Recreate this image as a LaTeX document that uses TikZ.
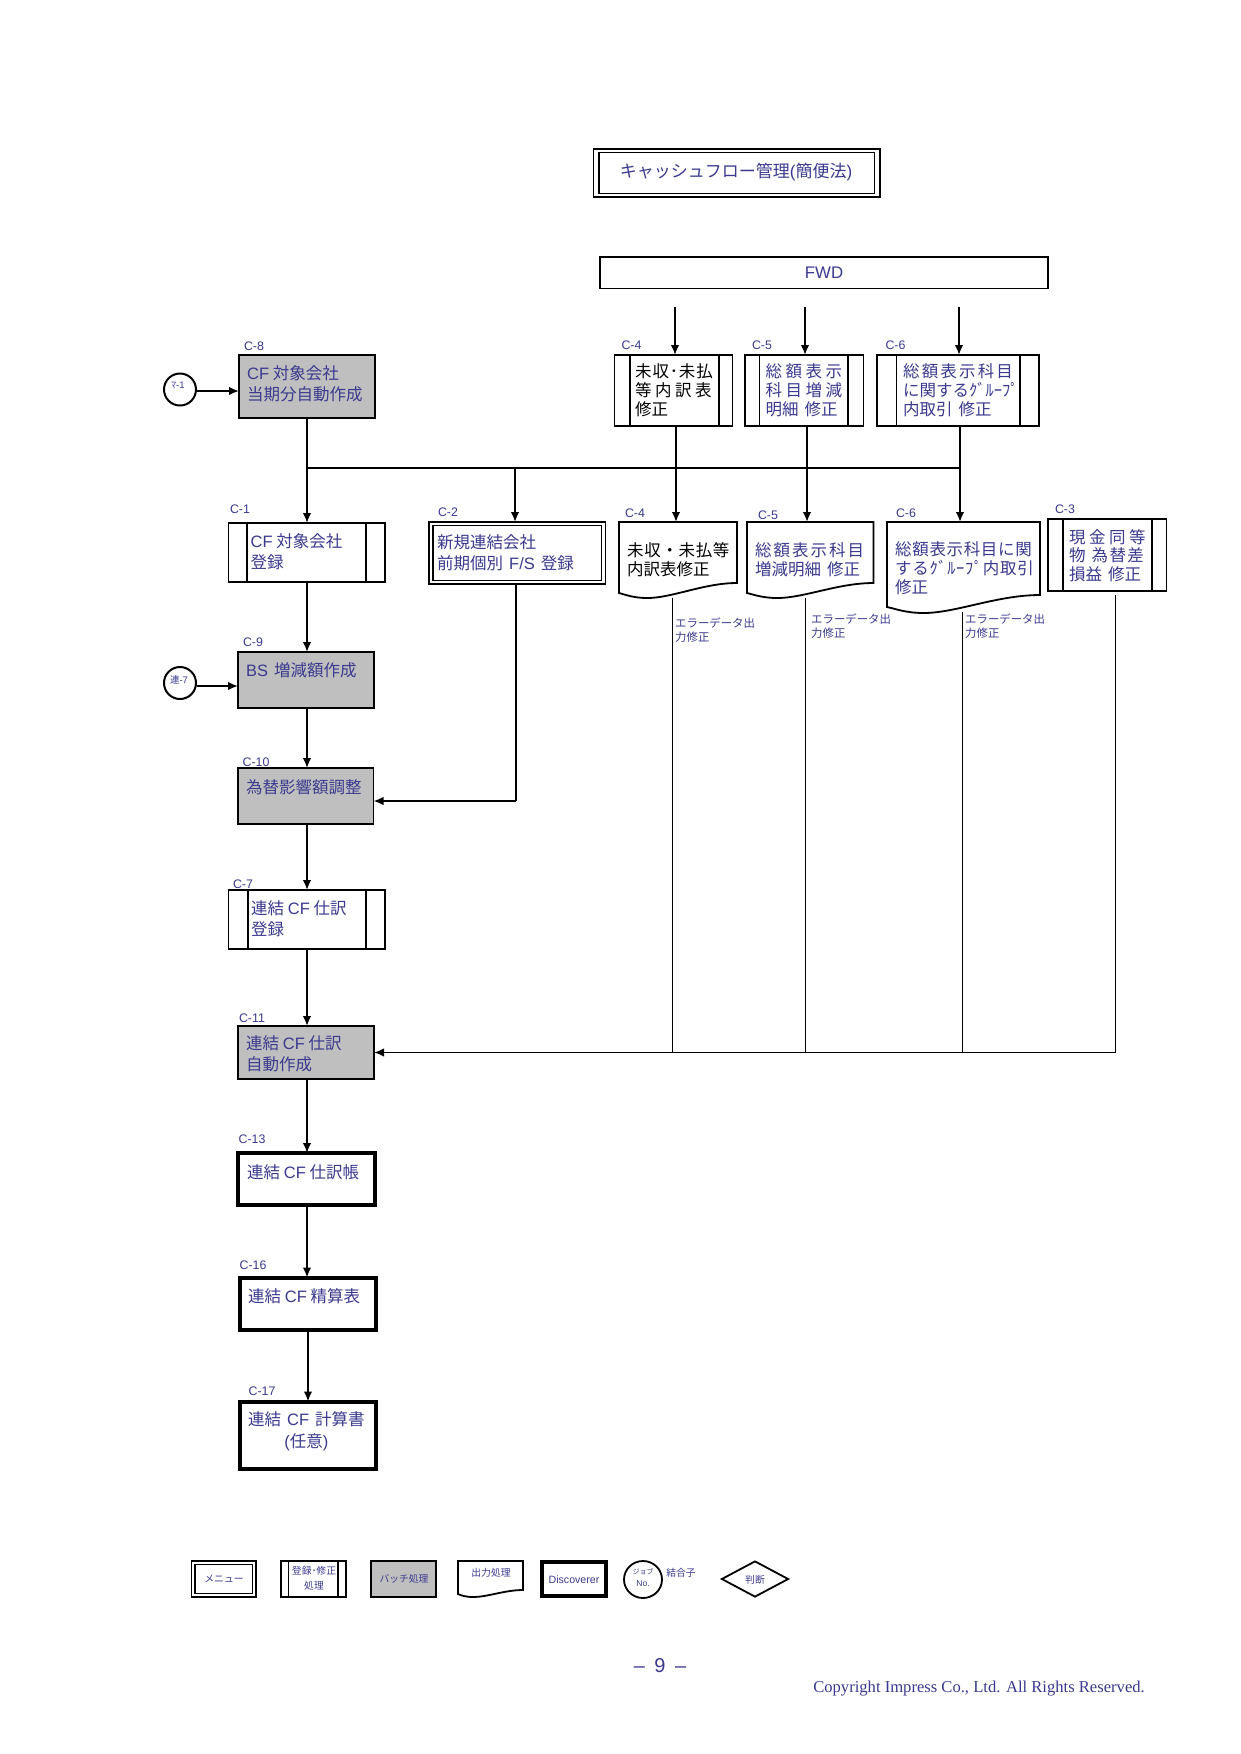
\documentclass[tikz,border=0pt]{standalone}
\usepackage{fontspec}
\usetikzlibrary{arrows.meta,shapes.geometric}
\setmainfont{Noto Sans CJK JP}
\newfontfamily\latf{Liberation Sans}
\newfontfamily\serf{Liberation Serif}
\newcommand\La[1]{{\latf #1}}
\newcommand\Sp[2]{{\addfontfeature{LetterSpace=#1}#2}}
\newcommand\Gp{\hspace{6pt}}
\definecolor{tblue}{HTML}{3B3A8F}
\definecolor{gfill}{HTML}{BFBFBF}
\tikzset{
  bxs/.style={draw=black,line width=1.8pt,inner sep=0pt,outer sep=0pt,fill=white},
  batch/.style={bxs,fill=gfill},
  heavy/.style={bxs,line width=4pt},
  anchorbox/.style={inner sep=0pt,outer sep=0pt},
  shp/.style={draw=black,line width=1.8pt,fill=white,line join=miter},
  tx/.style={inner sep=0pt,anchor=west,align=left,text=tblue,font=\fontsize{16.5}{20.5}\selectfont},
  txs/.style={tx,font=\fontsize{16.5}{18.8}\selectfont},
  txk/.style={txs,text=black},
  ttl/.style={inner sep=0pt,text=tblue,font=\fontsize{17}{22}\selectfont},
  lab/.style={inner sep=0pt,text=tblue,font=\latf\fontsize{12.4}{14}\selectfont},
  err/.style={inner sep=0pt,anchor=west,align=left,text=tblue,font=\fontsize{11.4}{14}\selectfont},
  leg/.style={inner sep=0pt,align=center,text=tblue,font=\fontsize{9.8}{14.5}\selectfont},
  arr/.style={line width=1.8pt,-{Latex[length=10pt,width=8.5pt]}},
  ln/.style={line width=1.8pt},
  thin ln/.style={line width=1.1pt},
  jnc/.style={circle,draw=black,line width=2pt,fill=white,minimum size=32pt,inner sep=0pt},
}
\newcommand\bx[6][]{\node[bxs,#1,minimum width={(#5-#3)*1pt},minimum height={(#6-#4)*1pt}] (#2) at ({(#3+#5)/2},{(#4+#6)/2}) {};}
\newcommand\rg[8][]{\bx[#1]{#2}{#3}{#4}{#5}{#6}\draw[ln] (#7,#4) -- (#7,#6) (#8,#4) -- (#8,#6);}
\newcommand\dbl[6]{\bx[line width=1.5pt]{#1}{#2}{#3}{#4}{#5}\draw[line width=1.5pt] ([shift={(#6,3.6)}]#1.north west) rectangle ([shift={(-#6,-3.6)}]#1.south east);}
% doc: name x1 y1 x2 yr yl yw
\newcommand\doc[7]{\node[anchorbox,minimum width={(#4-#2)*1pt},minimum height={(#7-#3)*1pt}] (#1) at ({(#2+#4)/2},{(#3+#7)/2}) {};
  \draw[shp] (#2,#3) -- (#4,#3) -- (#4,#5) .. controls ({#2+0.72*(#4-#2)},#5) and ({#2+0.45*(#4-#2)},#7) .. ({#2+0.24*(#4-#2)},#7) .. controls ({#2+0.12*(#4-#2)},#7) and ({#2+0.05*(#4-#2)},{#6+1.5}) .. (#2,#6) -- cycle;}
\begin{document}
\begin{tikzpicture}[x=1pt,y=-1pt]
\useasboundingbox (0,0) rectangle (1241,1754);
\fill[white] (0,0) rectangle (1241,1754);

% ---------- coordinates used by connectors
\coordinate (xm) at (307,0);
\coordinate (xn) at (308,0);
\coordinate (x2) at (515,0);
\coordinate (x2o) at (516,0);
\coordinate (bus) at (307,468);
\coordinate (busr) at (960,468);
\coordinate (f4) at (675,307);
\coordinate (f5) at (805,307);
\coordinate (f6) at (959,307);
\coordinate (x4) at (676,0);
\coordinate (x5) at (807,0);
\coordinate (x6) at (960,0);
\coordinate (e4) at (672.5,0);
\coordinate (e5) at (805.5,0);
\coordinate (e6) at (962.5,0);
\coordinate (e3) at (1115.5,0);
\coordinate (y2) at (0,801);
\coordinate (yb) at (0,1052.5);
\coordinate (ym1) at (0,391);
\coordinate (yr7) at (0,686);

% ---------- connectors under boxes
\draw[ln] (xm |- bus) -- (busr);
\draw[thin ln] (e4 |- 0,598) -- (e4 |- yb);
\draw[thin ln] (e5 |- 0,598) -- (e5 |- yb);
\draw[thin ln] (e6 |- 0,612) -- (e6 |- yb);
\draw[thin ln] (e3 |- 0,595) -- (e3 |- yb);

% ---------- title and FWD
\dbl{title}{593.5}{149}{880}{197}{5.5}
\node[ttl] (titleT) at (736,172) {キャッシュフロー管理\La{(}簡便法\La{)}};
\bx{fwd}{600}{257}{1048}{288.5}
\node[ttl,font=\latf\fontsize{16.8}{20}\selectfont] (fwdT) at (824,273) {FWD};

% ---------- top modification boxes
\rg{c4u}{614.5}{355}{732.5}{426}{630}{719}
\rg{c5u}{745}{355}{863.5}{426}{759.5}{848}
\rg{c6u}{877}{355}{1039}{426}{896.5}{1020}
\node[txk] (c4uT) at (635,390.5) {\Sp{5}{未収･未払}\\\Sp{21}{等内訳表}\\修正};
\node[txs] (c5uT) at (765.5,390.5) {\Sp{21}{総額表示}\\\Sp{21}{科目増減}\\明細\Gp 修正};
\node[txs] (c6uT) at (903,390.5) {\Sp{13}{総額表示科目}\\に関するｸﾞﾙｰﾌﾟ\\内取引\Gp 修正};
\node[lab] (l4u) at (631.5,345) {C-4};
\node[lab] (l5u) at (762,345) {C-5};
\node[lab] (l6u) at (895.5,345) {C-6};

% ---------- output documents
\doc{d4}{619}{522}{737}{583}{593}{598}
\doc{d5}{747}{522}{873.5}{583}{593}{598}
\doc{d6}{887}{522}{1040}{595}{607}{613}
\node[txk] (d4T) at (627,559.5) {\Sp{4}{未収・未払等}\\内訳表修正};
\node[txs] (d5T) at (755,559.5) {\Sp{12}{総額表示科目}\\増減明細\Gp 修正};
\node[txs] (d6T) at (895,568.5) {\Sp{4}{総額表示科目に関}\\\Sp{4}{するｸﾞﾙｰﾌﾟ内取引}\\修正};
\node[lab] (l4d) at (635,513) {C-4};
\node[lab] (l5d) at (768,515) {C-5};
\node[lab] (l6d) at (906,513) {C-6};

\rg{c3}{1048}{519}{1166.5}{591}{1063}{1152}
\node[txs] (c3T) at (1069,555.5) {\Sp{21}{現金同等}\\物\Gp\Sp{8}{為替差}\\損益\Gp 修正};
\node[lab] (l3) at (1065,509) {C-3};

\node[err] (e4T) at (675,630) {エラーデータ出\\力修正};
\node[err] (e5T) at (811,626.5) {エラーデータ出\\力修正};
\node[err] (e6T) at (965,626.5) {エラーデータ出\\力修正};

% ---------- left column
\bx[batch]{c8}{239}{355}{375}{418}
\node[tx] (c8T) at (247,383.5) {\La{CF} 対象会社\\当期分自動作成};
\node[lab] (l8) at (254,346) {C-8};
\rg{c1}{228.5}{523}{385}{582}{247}{366}
\node[tx] (c1T) at (250.5,551.5) {\La{CF} 対象会社\\登録};
\node[lab] (l1) at (240,509) {C-1};
\dbl{c2}{429}{522}{605.5}{584}{4}
\node[tx] (c2T) at (437,553) {新規連結会社\\前期個別\Gp\La{F/S}\Gp 登録};
\node[lab] (l2) at (448,512) {C-2};
\bx[batch]{c9}{238}{652}{374}{708}
\node[tx] (c9T) at (246,670) {\La{BS}\Gp 増減額作成};
\node[lab] (l9) at (253,642) {C-9};
\bx[batch]{c10}{238}{768}{373.5}{824}
\node[tx] (c10T) at (246,787) {為替影響額調整};
\node[lab] (l10) at (256,762) {C-10};
\rg{c7}{228.5}{890}{385}{949}{248}{366}
\node[tx] (c7T) at (251,918.5) {連結 \La{CF} 仕訳\\登録};
\node[lab] (l7) at (243,884) {C-7};
\bx[batch]{c11}{238}{1026}{374}{1079}
\node[tx] (c11T) at (246,1054) {連結 \La{CF} 仕訳\\自動作成};
\node[lab] (l11) at (252,1018) {C-11};
\bx[heavy]{c13}{238}{1153}{374.5}{1205}
\node[tx] (c13T) at (247,1172) {連結 \La{CF} 仕訳帳};
\node[lab] (l13) at (252,1139) {C-13};
\bx[heavy]{c16}{239.5}{1277.5}{376}{1329.5}
\node[tx] (c16T) at (248,1296) {連結 \La{CF} 精算表};
\node[lab] (l16) at (253,1265) {C-16};
\bx[heavy]{c17}{239.5}{1401.5}{375.5}{1469}
\node[tx,align=center,font=\fontsize{16.5}{22}\selectfont] (c17T) at (248,1431) {連結\Gp\La{CF}\Gp 計算書\\\La{(}任意\La{)}};
\node[lab] (l17) at (262,1391) {C-17};

\node[jnc] (m1) at (180,389.5) {};
\node[leg,font=\fontsize{9.5}{10}\selectfont] (m1T) at (178,385) {ﾏ\La{-1}};
\node[jnc] (r7) at (180,683) {};
\node[leg,font=\fontsize{9.5}{10}\selectfont] (r7T) at (179,680) {連\La{-7}};

% ---------- connectors
\draw[arr] (m1.east |- ym1) -- (c8.west |- ym1);
\draw[arr] (r7.east |- yr7) -- (c9.west |- yr7);
\draw[arr] (xm |- c8.south) -- (xm |- c1.north);
\draw[arr] (x2 |- bus) -- (x2 |- c2.north);
\draw[arr] (xm |- c1.south) -- (xm |- c9.north);
\draw[arr] (xm |- c9.south) -- (xm |- c10.north);
\draw[arr] (xm |- c10.south) -- (xm |- c7.north);
\draw[arr] (xm |- c7.south) -- (xm |- c11.north);
\draw[arr] (xm |- c11.south) -- (xm |- c13.north);
\draw[arr] (xm |- c13.south) -- (xm |- c16.north);
\draw[arr] (xn |- c16.south) -- (xn |- c17.north);
\draw[ln] (x2o |- c2.south) -- (x2o |- y2);
\draw[arr] (x2o |- y2) -- (c10.east |- y2);
\draw[arr] (e3 |- yb) -- (c11.east |- yb);
\draw[arr] (f4) -- (f4 |- c4u.north);
\draw[arr] (f5) -- (f5 |- c5u.north);
\draw[arr] (f6) -- (f6 |- c6u.north);
\draw[arr] (x4 |- c4u.south) -- (x4 |- d4.north);
\draw[arr] (x5 |- c5u.south) -- (x5 |- d5.north);
\draw[arr] (x6 |- c6u.south) -- (x6 |- d6.north);

% ---------- legend
\dbl{lm}{191.5}{1561}{256}{1597}{3.5}
\node[leg] (lmT) at (224,1579) {メニュー};
\rg{lr}{281}{1561}{346}{1597}{288.5}{338}
\node[leg] (lrT) at (314,1578.5) {登録･修正\\処理};
\bx[batch]{lb}{371}{1561}{436}{1597}
\node[leg] (lbT) at (404,1579) {バッチ処理};
\doc{lo}{458}{1561}{523}{1590}{1594}{1597}
\node[leg] (loT) at (491,1573) {出力処理};
\node[draw=black,line width=4pt,fill=white,inner sep=0pt,minimum width=64pt,minimum height=34pt] (ld) at (573.5,1579) {};
\node[leg,font=\latf\fontsize{10.6}{12}\selectfont] (ldT) at (574,1580) {Discoverer};
\node[ellipse,draw=black,line width=1.8pt,fill=white,minimum width=38pt,minimum height=37pt,inner sep=0pt] (lc) at (643,1579.5) {};
\node[leg,font=\fontsize{7}{9}\selectfont] (lcT) at (643,1572) {ジョブ};
\node[leg,font=\latf\fontsize{8.5}{10}\selectfont] (lcN) at (643,1584) {No.};
\node[leg] (lcL) at (681,1572.5) {結合子};
\node[diamond,draw=black,line width=1.8pt,fill=white,minimum width=67pt,minimum height=36pt,inner sep=0pt] (lj) at (755,1579) {};
\node[leg] (ljT) at (755,1579.5) {判断};

% ---------- footer
\node[inner sep=0pt,text=tblue,font=\latf\fontsize{20}{22}\selectfont] (pg) at (660,1666) {–\hspace{4pt} 9 \hspace{4pt}–};
\node[inner sep=0pt,anchor=east,text=tblue,font=\serf\fontsize{16.6}{18}\selectfont] (cp) at (1145,1689) {Copyright Impress Co., Ltd. All Rights Reserved.};
\end{tikzpicture}
\end{document}
